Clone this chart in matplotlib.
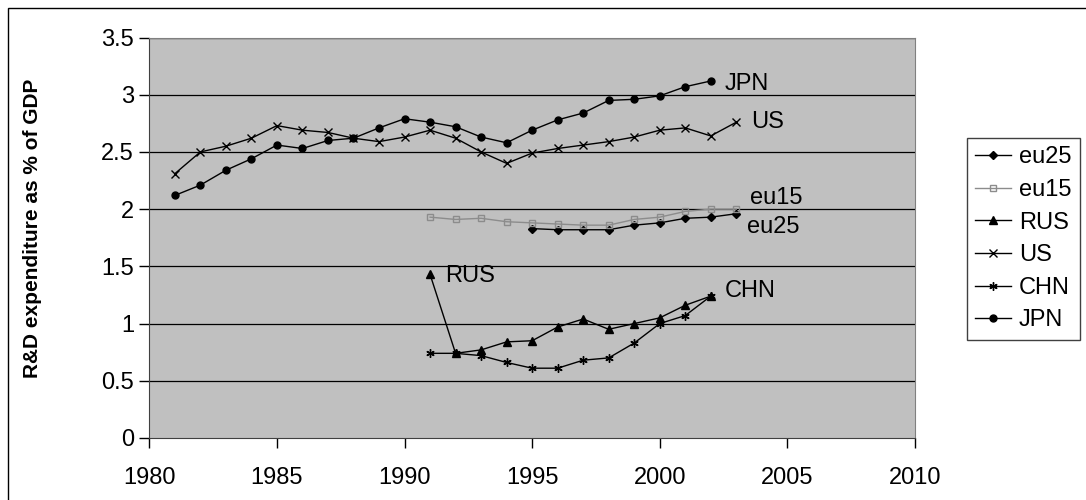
import matplotlib
matplotlib.use('Agg')
import matplotlib.pyplot as plt
from matplotlib.patches import Rectangle
from matplotlib.ticker import FuncFormatter

plt.rcParams['font.family'] = ['Liberation Sans', 'DejaVu Sans']

# R&D expenditure as % of GDP
jpn_years = list(range(1981, 2003))
jpn = [2.12, 2.21, 2.34, 2.44, 2.56, 2.53, 2.60, 2.62, 2.71, 2.79, 2.76,
       2.72, 2.63, 2.58, 2.69, 2.78, 2.84, 2.95, 2.96, 2.99, 3.07, 3.12]

us_years = list(range(1981, 2004))
us = [2.31, 2.50, 2.55, 2.62, 2.73, 2.69, 2.67, 2.62, 2.59, 2.63, 2.69,
      2.62, 2.50, 2.40, 2.49, 2.53, 2.56, 2.59, 2.63, 2.69, 2.71, 2.64, 2.76]

eu15_years = list(range(1991, 2004))
eu15 = [1.93, 1.91, 1.92, 1.89, 1.88, 1.87, 1.86, 1.86, 1.91, 1.93, 1.98, 2.00, 2.00]

eu25_years = list(range(1995, 2004))
eu25 = [1.83, 1.82, 1.82, 1.82, 1.86, 1.88, 1.92, 1.93, 1.96]

rus_years = list(range(1991, 2003))
rus = [1.43, 0.74, 0.77, 0.84, 0.85, 0.97, 1.04, 0.95, 1.00, 1.05, 1.16, 1.24]

chn_years = list(range(1991, 2003))
chn = [0.74, 0.74, 0.72, 0.66, 0.61, 0.61, 0.68, 0.70, 0.83, 1.00, 1.07, 1.24]

x_ticks = [1980, 1985, 1990, 1995, 2000, 2005, 2010]
y_ticks = [0, 0.5, 1, 1.5, 2, 2.5, 3, 3.5]

fig = plt.figure(figsize=(10.86, 5), dpi=100)
ax = fig.add_axes([0.1375, 0.124, 0.705, 0.801])
ax.set_facecolor('#c0c0c0')

# series (legend order follows the original)
ax.plot(eu25_years, eu25, color='black', lw=1, marker='D', ms=4.5, label='eu25', zorder=3)
ax.plot(eu15_years, eu15, color='#8c8c8c', lw=1, marker='s', ms=5, mfc='none',
        mec='#8c8c8c', label='eu15', zorder=3)
ax.plot(rus_years, rus, color='black', lw=1, marker='^', ms=6, label='RUS', zorder=3)
ax.plot(us_years, us, color='black', lw=1, marker='x', ms=6, mew=1, label='US', zorder=3)
ax.plot(chn_years, chn, color='black', lw=1, marker=(6, 2, 0), ms=6, mew=1, label='CHN', zorder=3)
ax.plot(jpn_years, jpn, color='black', lw=1, marker='o', ms=5, label='JPN', zorder=3)

# labels next to the line ends
lab_kw = dict(textcoords='offset points', va='center', ha='left', fontsize=17)
ax.annotate('JPN', (jpn_years[-1], jpn[-1]), xytext=(10, -2), **lab_kw)
ax.annotate('US', (us_years[-1], us[-1]), xytext=(11, 0), **lab_kw)
ax.annotate('eu15', (eu15_years[-1], eu15[-1]), xytext=(10, 8), **lab_kw)
ax.annotate('eu25', (eu25_years[-1], eu25[-1]), xytext=(8, -9.5), **lab_kw)
ax.annotate('CHN', (chn_years[-1], chn[-1]), xytext=(10, 4), **lab_kw)
ax.annotate('RUS', (rus_years[0], rus[0]), xytext=(11, -1), **lab_kw)

ax.set_xlim(1980, 2010)
ax.set_ylim(0, 3.5)
ax.set_xticks(x_ticks)
ax.set_yticks(y_ticks)
ax.yaxis.set_major_formatter(FuncFormatter(lambda v, p: '%g' % v))
ax.tick_params(axis='both', direction='out', length=7, width=1, labelsize=17)
ax.tick_params(axis='x', pad=14)
ax.tick_params(axis='y', pad=4)

for y in y_ticks[1:]:
    ax.axhline(y, color='black', lw=0.9, zorder=1)

for side in ['top', 'right']:
    ax.spines[side].set_color('#808080')
ax.spines['left'].set_color('#404040')
ax.spines['bottom'].set_color('#404040')

ax.set_ylabel('R&D expenditure as % of GDP', fontsize=15, fontweight='bold')
ax.yaxis.set_label_coords(-0.14, 0.524)

leg = fig.legend(loc='upper left', bbox_to_anchor=(0.8904, 0.724), fontsize=17,
                 frameon=True, fancybox=False, framealpha=1, edgecolor='#404040',
                 handlelength=1.5, handletextpad=0.35, labelspacing=0.45,
                 borderpad=0.35, borderaxespad=0)
leg.get_frame().set_linewidth(1)

# outer chart border
fig.patches.append(Rectangle((8 / 1086, -0.1), 1.2, (500 - 8) / 500 + 0.1, fill=False,
                             edgecolor='black', lw=1, transform=fig.transFigure))

plt.savefig('out.png', dpi=100)
